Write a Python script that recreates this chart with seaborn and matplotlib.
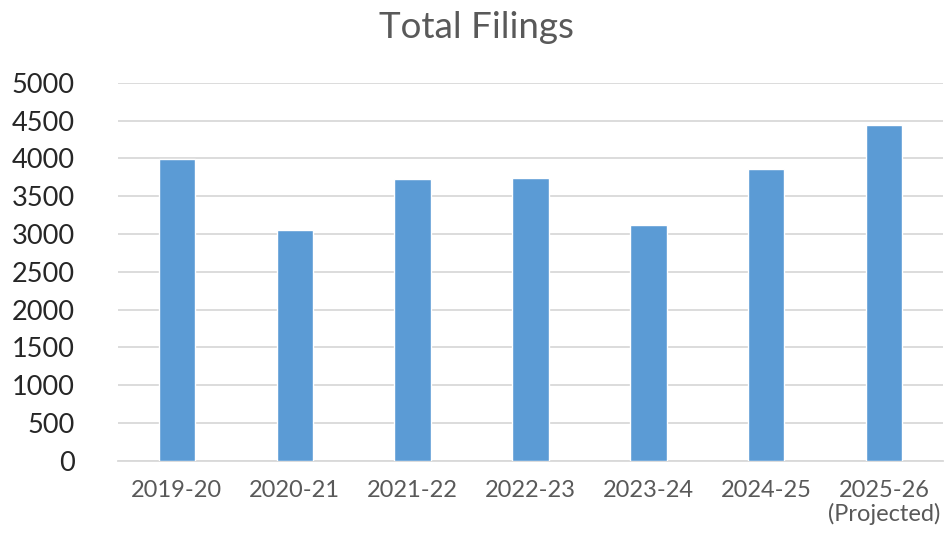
import matplotlib.pyplot as plt
import pandas as pd
import seaborn as sns

# Data
years = ['2019-20', '2020-21', '2021-22', '2022-23', '2023-24', '2024-25', '2025-26']
tick_labels = ['2019-20', '2020-21', '2021-22', '2022-23', '2023-24', '2024-25', '2025-26\n(Projected)']
filings = [3985, 3048, 3720, 3738, 3115, 3855, 4443]

df = pd.DataFrame({'year': years, 'filings': filings})

sns.set_style('white')
plt.rcParams['font.family'] = ['Lato', 'DejaVu Sans']

fig = plt.figure(figsize=(9.53, 5.33), dpi=100)
ax = fig.add_axes([0.1238, 0.1356, 0.8657, 0.7092])

sns.barplot(data=df, x='year', y='filings', color='#5B9BD5', saturation=1,
            width=0.31, ax=ax, zorder=3)

ax.set_ylim(0, 5000)
ax.set_xlim(-0.5, 6.5)
ax.set_yticks(range(0, 5001, 500))
ax.yaxis.grid(True, color='#D9D9D9', linewidth=1.3, zorder=0)
ax.set_axisbelow(True)
for side in ['left', 'right', 'top']:
    ax.spines[side].set_visible(False)
ax.spines['bottom'].set_color('#D9D9D9')
ax.spines['bottom'].set_linewidth(1.3)

ax.set_xticks(range(len(years)))
ax.set_xticklabels(tick_labels, fontsize=17, color='#595959', linespacing=1.12)
ax.tick_params(axis='y', labelsize=19.5, labelcolor='#262626', length=0, pad=31)
ax.tick_params(axis='x', length=0, pad=14)
ax.set_xlabel('')
ax.set_ylabel('')

fig.suptitle('Total Filings', fontsize=26.5, color='#595959', y=0.98)

fig.savefig('out.png', dpi=100)
